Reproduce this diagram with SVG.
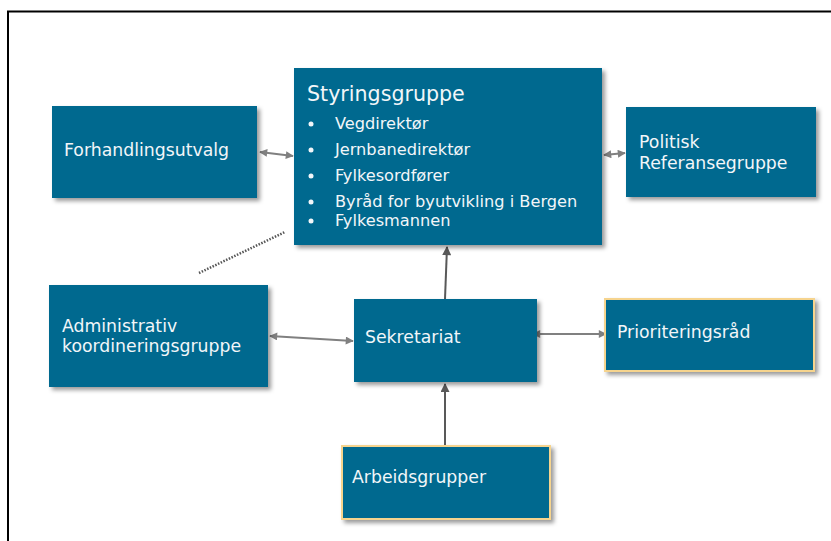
<svg xmlns="http://www.w3.org/2000/svg" width="831" height="541" viewBox="0 0 831 541">
<defs>
<style>
.box{fill:#02698F;filter:url(#sh);}
.hl{stroke:#F6D48E;stroke-width:2;}
.t{font-family:"DejaVu Sans",sans-serif;font-size:17.3px;fill:#F2F6F9;}
.b{font-family:"DejaVu Sans",sans-serif;font-size:16.2px;fill:#F2F6F9;}
.tt{font-family:"DejaVu Sans",sans-serif;font-size:20.6px;fill:#F2F6F9;}
.c{stroke:#808080;stroke-width:2;fill:none;}
.cd{stroke:#595959;stroke-width:2;fill:none;}
</style>
<filter id="sh" x="-10%" y="-10%" width="130%" height="130%">
<feDropShadow dx="3" dy="3" stdDeviation="2" flood-color="#000" flood-opacity="0.4"/>
</filter>
<marker id="ag" viewBox="0 0 10 10" refX="9" refY="5" markerWidth="9" markerHeight="8" markerUnits="userSpaceOnUse" orient="auto-start-reverse">
<path d="M0,0 L10,5 L0,10 z" fill="#808080"/>
</marker>
<marker id="ad" viewBox="0 0 10 10" refX="9" refY="5" markerWidth="10" markerHeight="9" markerUnits="userSpaceOnUse" orient="auto">
<path d="M0,0 L10,5 L0,10 z" fill="#595959"/>
</marker>
</defs>
<rect width="831" height="541" fill="#fff"/>
<rect x="8" y="11.5" width="830" height="540" fill="none" stroke="#000" stroke-width="2"/>

<g id="connectors">
<line class="c" x1="260" y1="152" x2="293" y2="156" marker-start="url(#ag)" marker-end="url(#ag)"/>
<line class="c" x1="604" y1="155" x2="625" y2="153" marker-start="url(#ag)" marker-end="url(#ag)"/>
<line x1="199" y1="273" x2="285" y2="232" stroke="#555" stroke-width="2.5" stroke-dasharray="1.5 1.5"/>
<line class="c" x1="270" y1="336" x2="353" y2="341" marker-start="url(#ag)" marker-end="url(#ag)"/>
<line class="c" x1="533" y1="334" x2="606" y2="334" marker-start="url(#ag)" marker-end="url(#ag)"/>
<line class="cd" x1="445" y1="299" x2="447" y2="247" marker-end="url(#ad)"/>
<line class="cd" x1="445" y1="445" x2="445" y2="384" marker-end="url(#ad)"/>
</g>

<g id="styringsgruppe">
<rect class="box" x="294" y="68" width="308" height="177"/>
<text class="tt" x="307" y="101">Styringsgruppe</text>
<circle cx="311" cy="124" r="2.5" fill="#F2F6F9"/>
<text class="b" x="335" y="129">Vegdirektør</text>
<circle cx="311" cy="150" r="2.5" fill="#F2F6F9"/>
<text class="b" x="335" y="155">Jernbanedirektør</text>
<circle cx="311" cy="176" r="2.5" fill="#F2F6F9"/>
<text class="b" x="335" y="181">Fylkesordfører</text>
<circle cx="311" cy="202" r="2.5" fill="#F2F6F9"/>
<text class="b" x="335" y="207">Byråd for byutvikling i Bergen</text>
<circle cx="311" cy="221" r="2.5" fill="#F2F6F9"/>
<text class="b" x="335" y="226">Fylkesmannen</text>
</g>

<g id="forhandlingsutvalg">
<rect class="box" x="52" y="106" width="205" height="92"/>
<text class="t" x="64" y="156">Forhandlingsutvalg</text>
</g>

<g id="politisk">
<rect class="box" x="626" y="107" width="190" height="90"/>
<text class="t" x="639" y="148">Politisk</text>
<text class="t" x="639" y="169">Referansegruppe</text>
</g>

<g id="administrativ">
<rect class="box" x="49" y="285" width="219" height="102"/>
<text class="t" x="62" y="332">Administrativ</text>
<text class="t" x="62" y="352">koordineringsgruppe</text>
</g>

<g id="sekretariat">
<rect class="box" x="354" y="299" width="183" height="83"/>
<text class="t" x="365" y="343">Sekretariat</text>
</g>

<g id="prioriteringsrad">
<rect class="box hl" x="605" y="299" width="209" height="72"/>
<text class="t" x="617" y="338">Prioriteringsråd</text>
</g>

<g id="arbeidsgrupper">
<rect class="box hl" x="342" y="446" width="208" height="73"/>
<text class="t" x="352" y="483">Arbeidsgrupper</text>
</g>
</svg>
